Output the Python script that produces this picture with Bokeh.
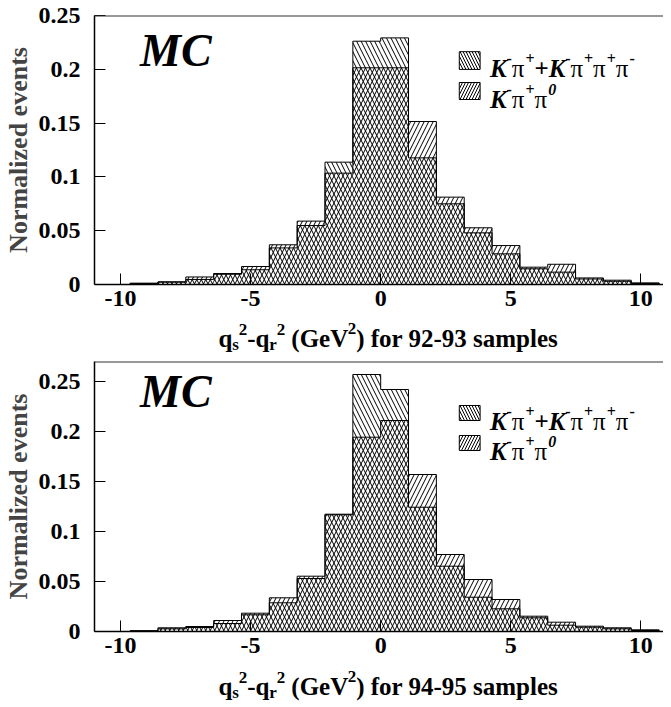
import numpy as np
from bokeh.plotting import figure
from bokeh.models import Range1d, FixedTicker, Label, Span
from bokeh.layouts import column
from bokeh.embed import file_html
from bokeh.resources import INLINE

# ---------------- data ----------------
bin_start = -10.7
bin_width = 1.07
n_bins = 20

# 92-93 samples
top_kpi_k3pi = [0.0, 0.0012, 0.0025, 0.0047, 0.0095, 0.0137, 0.0340, 0.0548, 0.1137, 0.2261,
                0.2292, 0.1177, 0.0750, 0.0480, 0.0285, 0.0146, 0.0115, 0.0051, 0.0030, 0.0010]
top_kpipi0 = [0.0, 0.0010, 0.0022, 0.0070, 0.0102, 0.0167, 0.0369, 0.0589, 0.1035, 0.2014,
              0.2014, 0.1515, 0.0812, 0.0527, 0.0362, 0.0161, 0.0188, 0.0061, 0.0040, 0.0015]
# 94-95 samples
bot_kpi_k3pi = [0.0, 0.0007, 0.0027, 0.0040, 0.0080, 0.0167, 0.0287, 0.0530, 0.1173, 0.2570,
                0.2420, 0.1243, 0.0653, 0.0343, 0.0227, 0.0137, 0.0063, 0.0043, 0.0027, 0.0010]
bot_kpipi0 = [0.0, 0.0007, 0.0037, 0.0050, 0.0110, 0.0183, 0.0337, 0.0553, 0.1167, 0.1943,
              0.2110, 0.1570, 0.0770, 0.0520, 0.0320, 0.0153, 0.0093, 0.0053, 0.0037, 0.0017]

x_ticks = [-10, -5, 0, 5, 10]
x_tick_labels = ["-10", "-5", "0", "5", "10"]
y_ticks = [0, 0.05, 0.1, 0.15, 0.2, 0.25]
y_tick_labels = ["0", "0.05", "0.1", "0.15", "0.2", "0.25"]
sample_names = ["92-93", "94-95"]
y_title = "Normalized events"
mc_text = "MC"

# ---------------- style / layout ----------------
FONT = "Liberation Serif"
W = 663
LEFT = 89
X0, X1 = -11.0, 10.87

WID = {' ': 0.25, '(': 0.333, ')': 0.333, '-': 0.333, '.': 0.25, '+': 0.570,
       'G': 0.778, 'V': 0.722, 'K': 0.667, 'M': 0.889, 'C': 0.667,
       'a': 0.5, 'e': 0.444, 'f': 0.333, 'l': 0.278, 'm': 0.833, 'o': 0.5,
       'p': 0.556, 'q': 0.556, 'r': 0.444, 's': 0.389, 'π': 0.55}


def tw(txt, size):
    return sum(WID.get(c, 0.5) for c in txt) * size


def add_rich(p, parts, fx, fy, to_x, to_y):
    x = fx
    for txt, size, rise, style in parts:
        lead = len(txt) - len(txt.lstrip(" "))
        x += tw(" " * lead, size)
        txt = txt.lstrip(" ")
        p.add_layout(Label(x=to_x(x), y=to_y(fy - rise), text=txt, text_font=FONT,
                           text_font_size=f"{size}px", text_font_style=style,
                           text_align="left", text_baseline="alphabetic",
                           text_color="black"))
        x += tw(txt, size)


def make_panel(vals_a, vals_b, ymax, height, btop, bbot, layout):
    p = figure(width=W, height=height, x_range=Range1d(X0, X1), y_range=Range1d(0, ymax),
               output_backend="svg", toolbar_location=None,
               min_border_left=LEFT, min_border_right=0, min_border_top=btop,
               min_border_bottom=bbot)
    p.outline_line_color = None
    p.xgrid.visible = False
    p.ygrid.visible = False
    p.background_fill_color = "white"
    p.border_fill_color = "white"

    frame_w = W - LEFT
    frame_h = height - btop - bbot
    xs = frame_w / (X1 - X0)
    ys = frame_h / ymax

    def dx(px):
        return X0 + px / xs

    def dy(py):  # py measured down from the frame top
        return ymax - py / ys

    edges = bin_start + bin_width * np.arange(n_bins + 1)
    a = np.array(vals_a)
    b = np.array(vals_b)

    common = dict(fill_alpha=0, line_color=None, hatch_color="black",
                  hatch_scale=9, hatch_weight=1)
    p.quad(left=edges[:-1], right=edges[1:], bottom=0, top=a, hatch_pattern="\\", **common)
    p.quad(left=edges[:-1], right=edges[1:], bottom=0, top=b, hatch_pattern="/", **common)

    sx = np.repeat(edges, 2)
    for v in (a, b):
        sy = np.concatenate([[0], np.repeat(v, 2), [0]])
        p.line(sx, sy, line_color="black", line_width=1)

    # axes
    for ax in (p.xaxis[0], p.yaxis[0]):
        ax.major_tick_in = 11
        ax.major_tick_out = 0
        ax.minor_tick_line_color = None
        ax.axis_line_width = 1.5
        ax.major_tick_line_width = 1
        ax.major_label_text_font = FONT
        ax.major_label_text_font_style = "bold"
        ax.major_label_text_font_size = "24px"
        ax.major_label_text_color = "black"
    p.xaxis.ticker = FixedTicker(ticks=x_ticks)
    p.xaxis.major_label_overrides = {t: l for t, l in zip(x_ticks, x_tick_labels)}
    p.xaxis.major_label_standoff = 6
    p.yaxis.ticker = FixedTicker(ticks=y_ticks)
    p.yaxis.major_label_overrides = {t: l for t, l in zip(y_ticks, y_tick_labels)}
    p.yaxis.major_label_standoff = 14
    p.yaxis.axis_label = y_title
    p.yaxis.axis_label_text_font = FONT
    p.yaxis.axis_label_text_font_style = "bold"
    p.yaxis.axis_label_text_font_size = "26px"
    p.yaxis.axis_label_standoff = 3

    # top frame line
    p.add_layout(Span(location=ymax, dimension="width", line_color="#333333", line_width=2))

    # MC
    add_rich(p, [(mc_text, 46, 0, "bold italic")], 46, layout["mc"], dx, dy)

    # legend
    bx0, bx1 = 368, 389
    (t1, b1), (t2, b2) = layout["boxes"]
    p.quad(left=dx(bx0), right=dx(bx1), top=dy(t1), bottom=dy(b1), fill_color="white",
           line_color="black", line_width=1, hatch_pattern="\\", hatch_color="black",
           hatch_scale=6, hatch_weight=1)
    p.quad(left=dx(bx0), right=dx(bx1), top=dy(t2), bottom=dy(b2), fill_color="white",
           line_color="black", line_width=1, hatch_pattern="/", hatch_color="black",
           hatch_scale=6, hatch_weight=1)
    S, s = 25, 16
    up = 10
    leg1 = [("K", S, 0, "bold italic"), ("-", s, up, "bold"), ("π", S, 0, "normal"),
            ("+", s, up, "bold"), ("+", S, 0, "bold"),
            ("K", S, 0, "bold italic"), ("-", s, up, "bold"), ("π", S, 0, "normal"),
            ("+", s, up, "bold"), ("π", S, 0, "normal"), ("+", s, up, "bold"),
            ("π", S, 0, "normal"), ("-", s, up, "bold")]
    leg2 = [("K", S, 0, "bold italic"), ("-", s, up, "bold"), ("π", S, 0, "normal"),
            ("+", s, up, "bold"), ("π", S, 0, "normal"), ("0", s, up, "bold italic")]
    add_rich(p, leg1, 399, layout["texts"][0], dx, dy)
    add_rich(p, leg2, 399, layout["texts"][1], dx, dy)
    return p


def make_title(sample, height, baseline):
    fw = W - LEFT
    t = figure(width=W, height=height, x_range=Range1d(0, fw), y_range=Range1d(0, height),
               output_backend="svg", toolbar_location=None, min_border_left=LEFT,
               min_border_right=0, min_border_top=0, min_border_bottom=0,
               x_axis_location=None, y_axis_location=None)
    t.outline_line_color = None
    t.xgrid.visible = False
    t.ygrid.visible = False
    T, ts = 25, 17
    parts = [("q", T, 0, "bold"), ("s", ts, -6, "bold"), ("2", ts, 9, "bold"),
             ("-q", T, 0, "bold"), ("r", ts, -6, "bold"), ("2", ts, 9, "bold"),
             (" (GeV", T, 0, "bold"), ("2", ts, 10, "bold"),
             (f") for {sample} samples", T, 0, "bold")]
    add_rich(t, parts, 125, baseline, lambda x: x, lambda y: height - y)
    return t


p1 = make_panel(top_kpi_k3pi, top_kpipi0, 0.25, 312, 15, 28,
                {"mc": 35, "boxes": [(36.2, 53.9), (67, 84)], "texts": [53, 84]})
t1 = make_title(sample_names[0], 48, 26)
p2 = make_panel(bot_kpi_k3pi, bot_kpipi0, 0.27, 299, 1, 28,
                {"mc": 30, "boxes": [(44, 59), (74, 89)], "texts": [60, 90]})
t2 = make_title(sample_names[1], 48, 27)

layout = column(p1, t1, p2, t2, spacing=0)
open("out.html", "w").write(file_html(layout, INLINE))
